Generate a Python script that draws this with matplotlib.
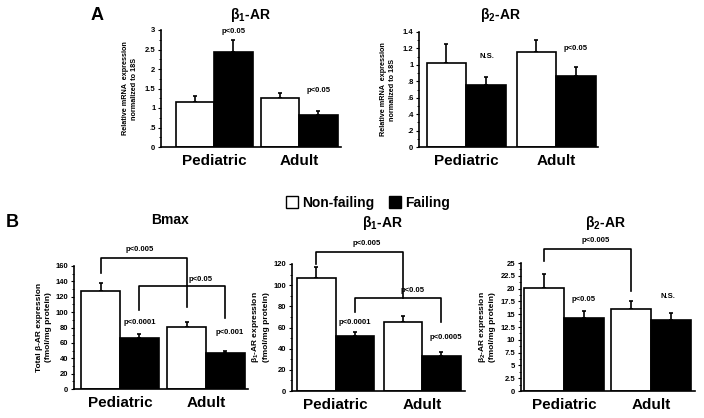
import numpy as np
import matplotlib
matplotlib.use("Agg")
from matplotlib import pyplot as plt
from matplotlib.patches import Patch
from matplotlib.ticker import MultipleLocator

plt.rcParams.update({"font.family": ["Liberation Sans", "DejaVu Sans"],
                     "font.weight": "bold", "axes.linewidth": 1.2,
                     "mathtext.fontset": "custom",
                     "mathtext.rm": "Liberation Sans:bold",
                     "mathtext.bf": "Liberation Sans:bold"})

groups = ["Pediatric", "Adult"]

# ---------------- data (mean, upper error) ----------------
a1_nf = [1.15, 1.25];  a1_nf_err = [0.17, 0.13]
a1_f = [2.43, 0.82];   a1_f_err = [0.32, 0.11]

a2_nf = [1.02, 1.16];  a2_nf_err = [0.23, 0.14]
a2_f = [0.76, 0.86];   a2_f_err = [0.09, 0.11]

b1_nf = [127, 81];     b1_nf_err = [11, 6]
b1_f = [66, 47];       b1_f_err = [6, 3]

b2_nf = [107, 65];     b2_nf_err = [10, 6]
b2_f = [52, 33];       b2_f_err = [4, 4]

b3_nf = [20.2, 16.0];  b3_nf_err = [2.6, 1.5]
b3_f = [14.2, 13.8];   b3_f_err = [1.5, 1.4]

a1_ticks = [0, 0.5, 1, 1.5, 2, 2.5, 3]
a1_ticklabels = ["0", ".5", "1", "1.5", "2", "2.5", "3"]
a2_ticks = [0, 0.2, 0.4, 0.6, 0.8, 1.0, 1.2, 1.4]
a2_ticklabels = ["0", ".2", ".4", ".6", ".8", "1", "1.2", "1.4"]
b1_ticks = list(range(0, 161, 20))
b2_ticks = list(range(0, 121, 20))
b3_ticks = [0, 2.5, 5, 7.5, 10, 12.5, 15, 17.5, 20, 22.5, 25]
b3_ticklabels = ["0", "2.5", "5", "7.5", "10", "12.5", "15", "17.5", "20", "22.5", "25"]

W, H = 704, 418
fig = plt.figure(figsize=(W / 100, H / 100), dpi=100)


def px_axes(x0, x1, y_top, y_bot):
    return fig.add_axes([x0 / W, 1 - y_bot / H, (x1 - x0) / W, (y_bot - y_top) / H])


def bars(ax, nf, nf_err, f, f_err, sep, xlim, ylim, ticks, ticklabels, minor):
    g = np.arange(len(groups)) * sep
    ax.bar(g - 0.5, nf, 1.0, color="white", edgecolor="black", linewidth=1.2, zorder=2)
    ax.bar(g + 0.5, f, 1.0, color="black", edgecolor="black", linewidth=1.2, zorder=2)
    ax.errorbar(g - 0.5, nf, yerr=[np.zeros(2), nf_err], fmt="none", ecolor="black",
                elinewidth=1.2, capsize=1.5, capthick=1.2, zorder=1)
    ax.errorbar(g + 0.5, f, yerr=[np.zeros(2), f_err], fmt="none", ecolor="black",
                elinewidth=1.2, capsize=1.5, capthick=1.2, zorder=1)
    ax.set_xlim(xlim)
    ax.set_ylim(ylim)
    for s in ("top", "right"):
        ax.spines[s].set_visible(False)
    ax.set_xticks(g)
    ax.set_xticklabels(groups, fontsize=11, fontweight="bold")
    ax.tick_params(axis="x", length=0, pad=5)
    ax.set_yticks(ticks)
    ax.set_yticklabels(ticklabels, fontsize=5.5, fontweight="bold")
    ax.yaxis.set_minor_locator(MultipleLocator(minor))
    ax.tick_params(axis="y", which="major", length=2.5, width=0.8, pad=1.5)
    ax.tick_params(axis="y", which="minor", length=1.5, width=0.6)
    return g


def bracket(ax, x0, x1, y, y0, y1):
    ax.plot([x0, x0, x1, x1], [y0, y, y, y1], color="black", lw=1.2, clip_on=False)


def note(ax, x, y, s):
    ax.text(x, y, s, fontsize=5.5, fontweight="bold", ha="center", va="center", clip_on=False)


# ---------------- panel A ----------------
ax = px_axes(161, 341, 30, 147)
bars(ax, a1_nf, a1_nf_err, a1_f, a1_f_err, 2.21, (-1.38, 3.30), (0, 3),
     a1_ticks, a1_ticklabels, 0.25)
ax.set_ylabel("Relative mRNA  expression\nnormalized to 18S", fontsize=5.2, fontweight="bold",
              labelpad=5, linespacing=1.4)
note(ax, 0.5, 2.97, "p<0.05")
note(ax, 2.71, 1.46, "p<0.05")

ax = px_axes(419, 598, 32, 147)
bars(ax, a2_nf, a2_nf_err, a2_f, a2_f_err, 2.28, (-1.19, 3.34), (0, 1.4),
     a2_ticks, a2_ticklabels, 0.1)
ax.set_ylabel("Relative mRNA  expression\nnormalized to 18S", fontsize=5.2, fontweight="bold",
              labelpad=5, linespacing=1.4)
note(ax, 0.53, 1.10, "N.S.")
note(ax, 2.76, 1.20, "p<0.05")

# ---------------- panel B ----------------
ax = px_axes(74, 248, 266, 389)
bars(ax, b1_nf, b1_nf_err, b1_f, b1_f_err, 2.22, (-1.19, 3.31), (0, 160),
     b1_ticks, [str(t) for t in b1_ticks], 10)
ax.set_ylabel("Total \u03b2-AR expression\n(fmol/mg protein)", fontsize=6, fontweight="bold",
              labelpad=3, linespacing=1.3)
bracket(ax, -0.5, 1.72, 170, 151, 107)
bracket(ax, 0.5, 2.72, 134, 103, 92)
note(ax, 0.52, 181, "p<0.005")
note(ax, 2.07, 143, "p<0.05")
note(ax, 0.52, 86, "p<0.0001")
note(ax, 2.84, 73, "p<0.001")

ax = px_axes(292, 465, 264, 391)
bars(ax, b2_nf, b2_nf_err, b2_f, b2_f_err, 2.24, (-1.13, 3.35), (0, 120),
     b2_ticks, [str(t) for t in b2_ticks], 10)
ax.set_ylabel("\u03b2$_1$-AR expression\n(fmol/mg protein)", fontsize=6, fontweight="bold",
              labelpad=3, linespacing=1.3)
bracket(ax, -0.5, 1.74, 131, 120, 88)
bracket(ax, 0.5, 2.74, 88, 75, 65)
note(ax, 0.8, 139, "p<0.005")
note(ax, 1.98, 95, "p<0.05")
note(ax, 0.49, 65, "p<0.0001")
note(ax, 2.84, 51, "p<0.0005")

ax = px_axes(521, 695, 263, 391)
bars(ax, b3_nf, b3_nf_err, b3_f, b3_f_err, 2.18, (-1.08, 3.28), (0, 25),
     b3_ticks, b3_ticklabels, 1.25)
ax.set_ylabel("\u03b2$_2$-AR expression\n(fmol/mg protein)", fontsize=6, fontweight="bold",
              labelpad=3, linespacing=1.3)
bracket(ax, -0.5, 1.68, 27.7, 25.4, 19.5)
note(ax, 0.78, 29.3, "p<0.005")
note(ax, 0.48, 17.8, "p<0.05")
note(ax, 2.6, 18.4, "N.S.")

# ---------------- titles, labels, legend ----------------
def ftext(x, y, s, size, **kw):
    fig.text(x / W, 1 - y / H, s, fontsize=size, fontweight="bold", ha="center", va="center", **kw)

ftext(97, 15, "A", 13)
ftext(12, 223, "B", 13)
ftext(250, 15, "\u03b2$_1$-AR", 10)
ftext(500, 15, "\u03b2$_2$-AR", 10)
ftext(170, 220, "Bmax", 10)
ftext(382, 223, "\u03b2$_1$-AR", 10)
ftext(605, 223, "\u03b2$_2$-AR", 10)

handles = [Patch(facecolor="white", edgecolor="black", linewidth=1.0),
           Patch(facecolor="black", edgecolor="black", linewidth=1.0)]
fig.legend(handles, ["Non-failing", "Failing"], loc="center", bbox_to_anchor=(368 / W, 1 - 203 / H),
           ncol=2, frameon=False, handlelength=0.9, handleheight=1.0, handletextpad=0.3,
           columnspacing=1.0, prop={"size": 10, "weight": "bold"})

fig.savefig("out.png", dpi=100)
